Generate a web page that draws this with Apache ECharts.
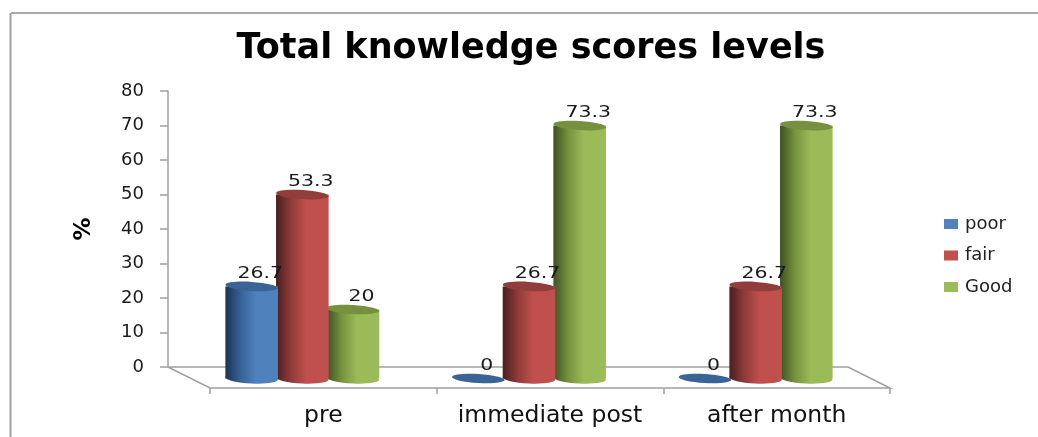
<!DOCTYPE html>
<html>
<head>
	<meta charset="utf-8">
	<title>Total knowledge scores levels</title>
	<style>html,body{margin:0;padding:0;background:#fff;}</style>
</head>
<body>
<script src="https://cdn.jsdelivr.net/npm/echarts@6/dist/echarts.min.js"></script>
<div id="container" style="width:1038px;height:437px;"></div>
<script type="text/javascript">
    var categories = ['pre', 'immediate post', 'after month'];
    var poor = [26.7, 0, 0];
    var fair = [53.3, 26.7, 26.7];
    var good = [20, 73.3, 73.3];

    var myChart = echarts.init(document.getElementById('container'));
    var font = 'DejaVu Sans';
    var axisGray = '#a0a0a0';
    // how far the bars and the floor front sit from the back wall
    var depthX = 21, depthY = 11.5;

    function shade(dark, mid, light, edge) {
        return new echarts.graphic.LinearGradient(0, 0, 1, 0, [
            { offset: 0, color: dark },
            { offset: 0.28, color: mid },
            { offset: 0.58, color: light },
            { offset: 1, color: edge }
        ]);
    }

    // cylinder for one value; slot is -1, 0 or 1 inside the category
    function cylinder(slot, colors) {
        return function (params, api) {
            var band = api.size([1, 0])[0];
            var w = band * 0.232;
            var step = band * 0.2235;
            var top = api.coord([api.value(0), api.value(1)]);
            var base = api.coord([api.value(0), 0]);
            var x = top[0] + depthX + slot * step - w / 2;
            var yTop = top[1] + depthY;
            var yBase = base[1] + depthY;
            var cx = x + w / 2;
            var val = api.value(1);
            var children = [];
            if (val > 0) {
                children.push({
                    type: 'ellipse',
                    shape: { cx: cx, cy: yBase, rx: w / 2, ry: 5 },
                    rotation: -0.05, originX: cx, originY: yBase,
                    style: { fill: shade(colors[0], colors[1], colors[2], colors[3]) }
                });
                children.push({
                    type: 'rect',
                    shape: { x: x, y: yTop, width: w, height: yBase - yTop },
                    style: { fill: shade(colors[0], colors[1], colors[2], colors[3]) }
                });
            }
            children.push({
                type: 'ellipse',
                shape: { cx: cx, cy: yTop, rx: w / 2, ry: 4.5 },
                rotation: -0.06, originX: cx, originY: yTop,
                style: { fill: colors[4] }
            });
            // the picture's labels are stretched sideways
            children.push({
                type: 'text',
                x: cx + 8.5, y: yTop - 13,
                scaleX: 1.24,
                style: {
                    x: 0, y: 0, text: String(val),
                    font: '16.5px "' + font + '"', fill: '#1a1a1a',
                    textAlign: 'center', textVerticalAlign: 'middle'
                }
            });
            return { type: 'group', children: children };
        };
    }

    // back edge and sides of the floor, taken from the axis rectangle
    function floor(params) {
        var c = params.coordSys;
        var y = c.y + c.height;
        return {
            type: 'polyline',
            shape: { points: [
                [c.x, y], [c.x + depthX * 2, y + depthY * 2 - 2],
                [c.x + c.width + depthX * 2, y + depthY * 2 - 2],
                [c.x + c.width, y], [c.x, y]
            ] },
            style: { fill: 'none', stroke: axisGray, lineWidth: 1.5 }
        };
    }

    function makeSeries(name, values, slot, colors, z) {
        return {
            name: name,
            type: 'custom',
            xAxisIndex: 0,
            yAxisIndex: 0,
            z: z,
            clip: false,
            itemStyle: { color: colors[2] },
            renderItem: cylinder(slot, colors),
            data: values.map(function (v, i) { return [i, v]; })
        };
    }

    var option = {
        backgroundColor: '#fff',
        animation: false,
        title: {
            text: 'Total knowledge scores levels',
            left: 526, top: 26, textAlign: 'center',
            textStyle: { fontFamily: font, fontWeight: 'bold', fontSize: 35, color: '#000' }
        },
        legend: {
            orient: 'vertical',
            left: 939, top: 210,
            itemWidth: 14, itemHeight: 10, itemGap: 13.5,
            icon: 'rect',
            data: ['poor', 'fair', 'Good'],
            textStyle: { fontFamily: font, fontSize: 18, color: '#222', padding: [0, 0, 0, 2] }
        },
        graphic: [
            { type: 'line', shape: { x1: 11, y1: 13, x2: 1038, y2: 13 }, style: { stroke: '#8c8c8c', lineWidth: 1.5 } },
            { type: 'line', shape: { x1: 10.5, y1: 13, x2: 10.5, y2: 437 }, style: { stroke: '#a0a0a0', lineWidth: 2 } }
        ],
        grid: [
            { left: 168, top: 91, width: 680, height: 276 },
            { left: 210, top: 91, width: 680, height: 297 }
        ],
        xAxis: [
            { type: 'category', gridIndex: 0, data: categories, show: false },
            {
                type: 'category', gridIndex: 1, data: categories,
                axisLine: { show: false },
                axisTick: { show: true, length: 6, lineStyle: { color: axisGray, width: 1.5 } },
                axisLabel: { fontFamily: font, fontSize: 23.5, color: '#111', margin: 16, interval: 0 }
            }
        ],
        yAxis: [
            {
                type: 'value', gridIndex: 0, min: 0, max: 80, interval: 10,
                name: '%', nameLocation: 'middle', nameGap: 72, nameRotate: 90,
                nameTextStyle: { fontFamily: font, fontWeight: 'bold', fontSize: 23, color: '#000' },
                axisLine: { show: true, lineStyle: { color: axisGray, width: 1.5 } },
                axisTick: { show: true, length: 8, lineStyle: { color: axisGray, width: 1.5 } },
                axisLabel: { fontFamily: font, fontSize: 18, color: '#1a1a1a', margin: 24, padding: [7, 0, 0, 0] },
                splitLine: { show: false }
            },
            { type: 'value', gridIndex: 1, show: false, min: 0, max: 80, splitLine: { show: false } }
        ],
        series: [
            {
                type: 'custom', xAxisIndex: 0, yAxisIndex: 0, z: 1, clip: false,
                silent: true, renderItem: floor, data: [[0, 0]]
            },
            makeSeries('poor', poor, -1, ['#1c3351', '#356196', '#4f81bd', '#4f81bd', '#3a6496'], 4),
            makeSeries('fair', fair, 0, ['#4a1f1e', '#8e3b39', '#c0504d', '#c0504d', '#903d3b'], 3),
            makeSeries('Good', good, 1, ['#3e5024', '#76923c', '#9bbb59', '#9bbb59', '#76903f'], 2)
        ]
    };
    myChart.setOption(option);
    window.addEventListener('resize', myChart.resize);
</script>
</body>
</html>
